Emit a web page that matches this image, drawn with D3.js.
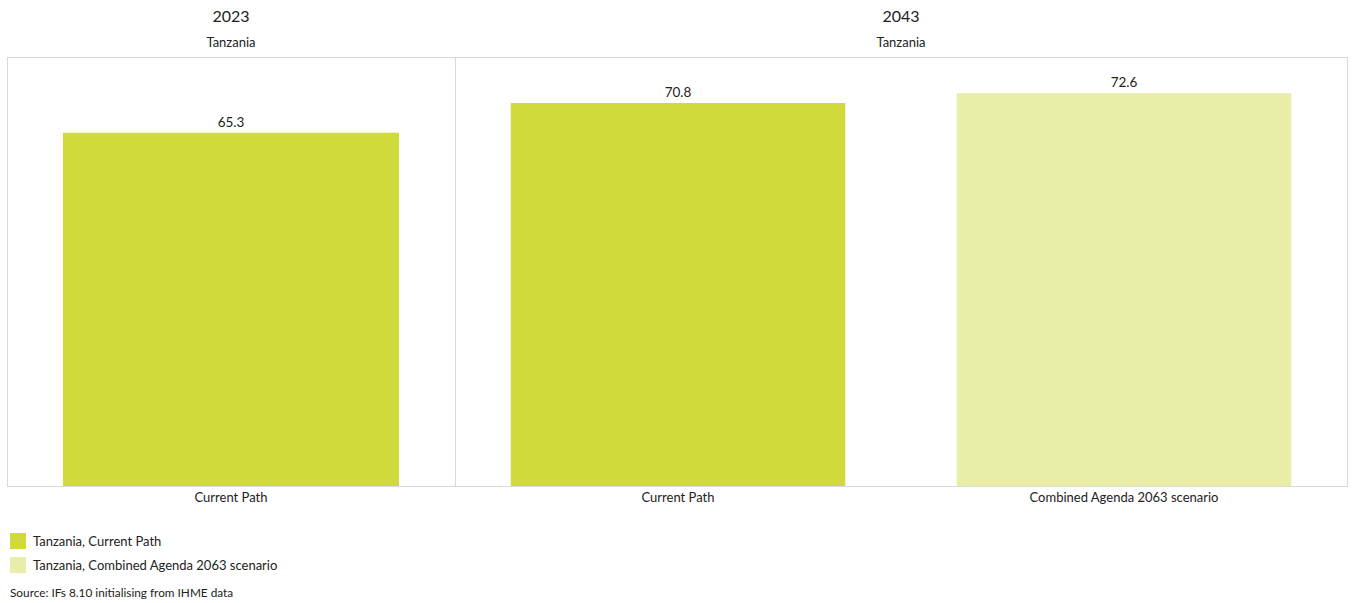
<!DOCTYPE html>
<html>
<head>
<meta charset="utf-8">
<script src="https://cdn.jsdelivr.net/npm/d3@7"></script>
<style>
  html, body { margin: 0; padding: 0; background: #fff; }
  svg { display: block; font-family: Lato, "Open Sans", sans-serif; }
</style>
</head>
<body>
<svg id="chart" width="1352" height="603"></svg>
<script>
// Life expectancy panels: one panel per year, one bar per scenario
const years = ["2023", "2043"];
const country = "Tanzania";
const panel2023Categories = ["Current Path"];
const panel2023Values = [65.3];
const panel2043Categories = ["Current Path", "Combined Agenda 2063 scenario"];
const panel2043Values = [70.8, 72.6];
const seriesNames = ["Tanzania, Current Path", "Tanzania, Combined Agenda 2063 scenario"];
const seriesColors = ["#d1da3b", "#e8eda7"];
const sourceNote = "Source: IFs 8.10 initialising from IHME data";

const panels = [
  { year: years[0], cats: panel2023Categories, vals: panel2023Values, x0: 7, x1: 455 },
  { year: years[1], cats: panel2043Categories, vals: panel2043Values, x0: 455, x1: 1347 }
];

const svg = d3.select("#chart");
const plotTop = 57, plotBottom = 486;
const y = d3.scaleLinear().domain([0, 79.3]).range([plotBottom, plotTop]);
const colorFor = d3.scaleOrdinal().domain(["Current Path", "Combined Agenda 2063 scenario"]).range(seriesColors);

panels.forEach(p => {
  const g = svg.append("g");
  const x = d3.scaleBand().domain(p.cats).range([p.x0, p.x1]).paddingInner(0.25).paddingOuter(0.125);
  const cx = (p.x0 + p.x1) / 2;

  g.append("text").attr("x", cx).attr("y", 22).attr("text-anchor", "middle")
    .attr("font-size", 16).attr("fill", "#222").text(p.year);
  g.append("text").attr("x", cx).attr("y", 47).attr("text-anchor", "middle")
    .attr("font-size", 13).attr("fill", "#222").text(country);

  // panel frame
  g.append("rect").attr("x", p.x0 + 0.5).attr("y", plotTop + 0.5)
    .attr("width", p.x1 - p.x0).attr("height", plotBottom - plotTop)
    .attr("fill", "none").attr("stroke", "#d9d9d9").attr("stroke-width", 1);

  const data = p.cats.map((c, i) => ({ c, v: p.vals[i] }));
  g.selectAll("rect.bar").data(data).join("rect").attr("class", "bar")
    .attr("x", d => x(d.c)).attr("width", x.bandwidth())
    .attr("y", d => y(d.v)).attr("height", d => y(0) - y(d.v))
    .attr("fill", d => colorFor(d.c));

  g.selectAll("text.val").data(data).join("text").attr("class", "val")
    .attr("x", d => x(d.c) + x.bandwidth() / 2).attr("y", d => y(d.v) - 6)
    .attr("text-anchor", "middle").attr("font-size", 13.5).attr("fill", "#222")
    .text(d => d.v.toFixed(1));

  const axis = d3.axisBottom(x).tickSize(0).tickPadding(7);
  const ag = g.append("g").attr("transform", `translate(0,${plotBottom})`).call(axis);
  ag.select(".domain").remove();
  ag.selectAll("text").attr("font-size", 13).attr("fill", "#222")
    .attr("font-family", "Lato, 'Open Sans', sans-serif");
});

// legend
const leg = svg.append("g");
seriesNames.forEach((name, i) => {
  const yy = 533 + i * 24;
  leg.append("rect").attr("x", 10).attr("y", yy).attr("width", 16).attr("height", 16).attr("fill", seriesColors[i]);
  leg.append("text").attr("x", 33).attr("y", yy + 12.5).attr("font-size", 13).attr("fill", "#222").text(name);
});

svg.append("text").attr("x", 10).attr("y", 597).attr("font-size", 11.8).attr("fill", "#222").text(sourceNote);
</script>
</body>
</html>
